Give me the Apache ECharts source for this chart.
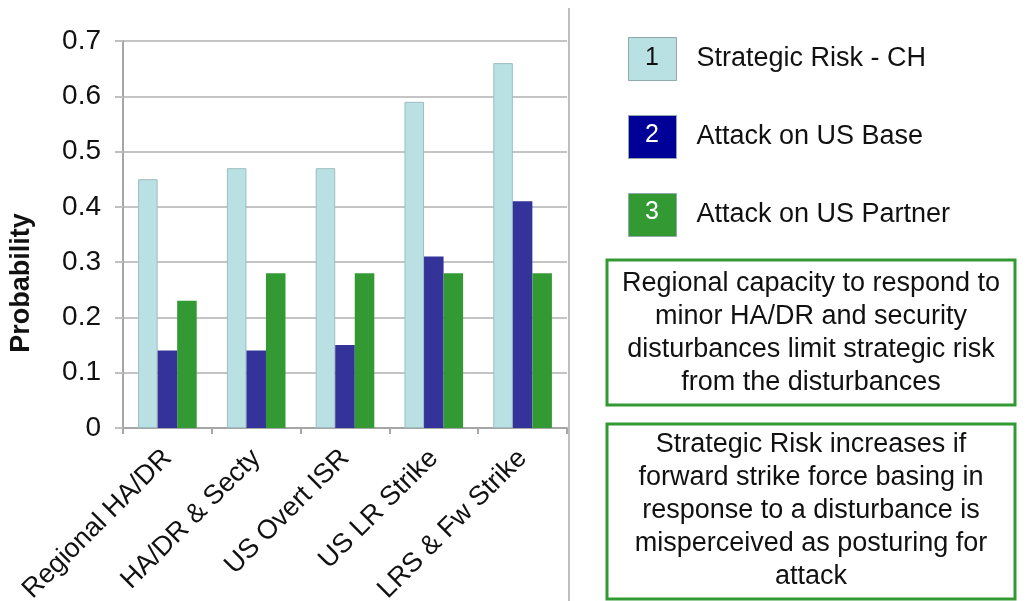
<!DOCTYPE html>
<html>
<head>
<meta charset="utf-8">
<title>Probability by posture option</title>
<script src="https://cdn.jsdelivr.net/npm/echarts@6/dist/echarts.min.js"></script>
<style>
  html, body { margin: 0; padding: 0; background: #ffffff; }
  #chart { width: 1031px; height: 601px; }
</style>
</head>
<body>
<div id="chart"></div>
<script>
// Posture options along the x axis
const categories = ['Regional HA/DR', 'HA/DR & Secty', 'US Overt ISR', 'US LR Strike', 'LRS & Fw Strike'];

// Outcome probabilities per posture option
const strategicRiskCH = [0.45, 0.47, 0.47, 0.59, 0.66];
const attackOnUSBase = [0.14, 0.14, 0.15, 0.31, 0.41];
const attackOnUSPartner = [0.23, 0.28, 0.28, 0.28, 0.28];

const seriesNames = ['Strategic Risk - CH', 'Attack on US Base', 'Attack on US Partner'];
const seriesNumbers = ['1', '2', '3'];

// Y axis range and step
const yMin = 0;
const yMax = 0.7;
const yStep = 0.1;

// Side notes
const noteTop = 'Regional capacity to respond to\nminor HA/DR and security\ndisturbances limit strategic risk\nfrom the disturbances';
const noteBottom = 'Strategic Risk increases if\nforward strike force basing in\nresponse to a disturbance is\nmisperceived as posturing for\nattack';

const FONT = '"Liberation Sans", Arial, Helvetica, sans-serif';
const barColors = ['#b9e0e3', '#333399', '#339933'];
const legendColors = ['#b9e0e3', '#000099', '#339933'];
const numberColors = ['#111111', '#ffffff', '#ffffff'];

const chart = echarts.init(document.getElementById('chart'), null, { renderer: 'canvas' });

const seriesData = [strategicRiskCH, attackOnUSBase, attackOnUSPartner];

// Legend swatch geometry
const swatchLeft = 628, swatchTop = 37, swatchW = 48, swatchH = 43, swatchGap = 34;

const option = {
  animation: false,
  backgroundColor: '#ffffff',
  textStyle: { fontFamily: FONT },
  grid: {
    left: 123, right: 464, top: 41, bottom: 173,
    containLabel: false,
    outerBoundsMode: 'none'
  },
  legend: {
    orient: 'vertical',
    left: swatchLeft,
    top: swatchTop,
    padding: 0,
    itemWidth: swatchW,
    itemHeight: swatchH,
    itemGap: swatchGap,
    icon: 'rect',
    selectedMode: false,
    textStyle: { fontFamily: FONT, fontSize: 27, color: '#111111', padding: [0, 0, 0, 15] },
    data: seriesNames.map((n, i) => ({
      name: n,
      itemStyle: { color: legendColors[i], borderColor: '#8fa9ad', borderWidth: 1 }
    }))
  },
  xAxis: {
    type: 'category',
    data: categories,
    boundaryGap: true,
    axisLine: { show: true, lineStyle: { color: '#a6a6a6', width: 2 } },
    axisTick: { show: true, length: 6, lineStyle: { color: '#a6a6a6', width: 2 } },
    axisLabel: {
      rotate: 45,
      interval: 0,
      margin: 26,
      hideOverlap: false,
      fontFamily: FONT,
      fontSize: 27,
      color: '#111111'
    },
    splitLine: { show: false }
  },
  yAxis: {
    type: 'value',
    min: yMin,
    max: yMax,
    interval: yStep,
    axisLine: { show: true, lineStyle: { color: '#a6a6a6', width: 2 } },
    axisTick: { show: true, length: 8, lineStyle: { color: '#c0c0c0', width: 2 } },
    axisLabel: {
      margin: 22,
      fontFamily: FONT,
      fontSize: 28,
      color: '#111111',
      formatter: v => String(Math.round(v * 10) / 10)
    },
    splitLine: { show: true, lineStyle: { color: '#c4c4c4', width: 2 } }
  },
  series: seriesData.map((d, i) => ({
    name: seriesNames[i],
    type: 'bar',
    data: d,
    barGap: '0%',
    barCategoryGap: '34%',
    itemStyle: {
      color: barColors[i],
      borderColor: i === 0 ? '#9dbdc1' : barColors[i],
      borderWidth: i === 0 ? 1 : 0
    }
  })),
  graphic: [
    // Y axis title
    {
      type: 'text',
      x: 22,
      y: 283,
      rotation: Math.PI / 2,
      style: {
        text: 'Probability',
        font: 'bold 27px ' + FONT,
        fill: '#111111',
        align: 'center',
        verticalAlign: 'middle'
      }
    },
    // Divider between chart and notes
    {
      type: 'line',
      shape: { x1: 569, y1: 8, x2: 569, y2: 601 },
      style: { stroke: '#bfbfbf', lineWidth: 2 }
    },
    // Numbers inside the legend swatches
    ...seriesNumbers.map((num, i) => ({
      type: 'text',
      x: swatchLeft + swatchW / 2,
      y: swatchTop + swatchH / 2 + i * (swatchH + swatchGap),
      z: 100,
      zlevel: 1,
      style: {
        text: num,
        font: '25px ' + FONT,
        fill: numberColors[i],
        align: 'center',
        verticalAlign: 'middle'
      },
      silent: true
    })),
    // Note boxes
    {
      type: 'rect',
      shape: { x: 607, y: 260, width: 408, height: 145 },
      style: { fill: '#ffffff', stroke: '#339933', lineWidth: 3 }
    },
    {
      type: 'text',
      x: 811,
      y: 333,
      style: {
        text: noteTop,
        font: '27px ' + FONT,
        fill: '#111111',
        align: 'center',
        verticalAlign: 'middle',
        lineHeight: 33
      }
    },
    {
      type: 'rect',
      shape: { x: 607, y: 424, width: 408, height: 175 },
      style: { fill: '#ffffff', stroke: '#339933', lineWidth: 3 }
    },
    {
      type: 'text',
      x: 811,
      y: 511,
      style: {
        text: noteBottom,
        font: '27px ' + FONT,
        fill: '#111111',
        align: 'center',
        verticalAlign: 'middle',
        lineHeight: 33
      }
    }
  ]
};

chart.setOption(option);
</script>
</body>
</html>
